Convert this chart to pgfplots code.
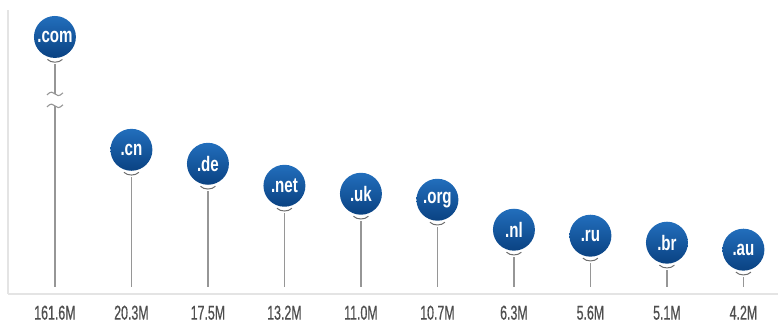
\documentclass[border=0pt]{standalone}
\usepackage{pgfplots}
\pgfplotsset{compat=1.18}
\usepackage{pgfplotstable}
\usepackage{fontspec}
\setmainfont{Liberation Sans}
\newfontfamily\condfont[FakeStretch=0.62,FakeBold=0.6]{Liberation Sans}
\newfontfamily\circfont[FakeStretch=0.72]{Liberation Sans}

\definecolor{stemc}{RGB}{150,150,150}
\definecolor{smilec}{RGB}{110,110,110}
\definecolor{axisc}{RGB}{228,228,228}
\definecolor{labc}{RGB}{78,78,78}
\definecolor{balltop}{RGB}{34,110,188}
\definecolor{ballbot}{RGB}{10,66,130}

\pgfdeclareplotmark{smile}{%
  \pgfpathmoveto{\pgfqpoint{-7.5pt}{2.5pt}}%
  \pgfpathcurveto{\pgfqpoint{-4pt}{-1.2pt}}{\pgfqpoint{4pt}{-1.2pt}}{\pgfqpoint{7.5pt}{2.5pt}}%
  \pgfusepathqstroke}
\pgfdeclareplotmark{brk}{%
  \pgfpathmoveto{\pgfqpoint{-8pt}{5pt}}%
  \pgfpathcurveto{\pgfqpoint{-4pt}{9pt}}{\pgfqpoint{-2pt}{8pt}}{\pgfqpoint{0pt}{6pt}}%
  \pgfpathcurveto{\pgfqpoint{2pt}{4pt}}{\pgfqpoint{4pt}{3pt}}{\pgfqpoint{8pt}{7pt}}%
  \pgfpathmoveto{\pgfqpoint{-8pt}{-7pt}}%
  \pgfpathcurveto{\pgfqpoint{-4pt}{-3pt}}{\pgfqpoint{-2pt}{-4pt}}{\pgfqpoint{0pt}{-6pt}}%
  \pgfpathcurveto{\pgfqpoint{2pt}{-8pt}}{\pgfqpoint{4pt}{-9pt}}{\pgfqpoint{8pt}{-5pt}}%
  \pgfusepathqstroke}

\pgfplotstableread{
i name val lab h
0 .com 161.6 161.6M 257
1 .cn 20.3 20.3M 144
2 .de 17.5 17.5M 130
3 .net 13.2 13.2M 108
4 .uk 11.0 11.0M 100
5 .org 10.7 10.7M 94
6 .nl 6.3 6.3M 64
7 .ru 5.6 5.6M 58
8 .br 5.1 5.1M 51
9 .au 4.2 4.2M 44
}\data

\begin{document}
\begin{tikzpicture}
\begin{axis}[
  scale only axis, width=771pt, height=284pt,
  xmin=-0.6136, xmax=9.4517, ymin=0, ymax=284,
  axis x line=bottom, axis y line=left,
  axis line style={-, draw=axisc, line width=2pt},
  ytick=\empty, xtick={0,...,9},
  xticklabels from table={\data}{lab},
  major tick length=0pt,
  xticklabel style={anchor=base, yshift=-26pt, inner sep=0pt,
    font=\condfont\fontsize{20}{20}\selectfont, text=labc},
  clip=false, unbounded coords=jump,
]
\path (axis cs:-0.718,-30) rectangle (axis cs:9.4517,294);
% stems (from 7 above the baseline up to just under each smile)
\addplot[draw=stemc, line width=1.2pt, mark=none] coordinates {
  (0,7) (0,188) (0,nan) (0,200) (0,230) (0,nan)
  (1,7) (1,117) (1,nan)
  (2,7) (2,103) (2,nan)
  (3,7) (3,81) (3,nan)
  (4,7) (4,73) (4,nan)
  (5,7) (5,67) (5,nan)
  (6,7) (6,37) (6,nan)
  (7,7) (7,31) (7,nan)
  (8,7) (8,24) (8,nan)
  (9,7) (9,17)
};
% break mark on .com
\addplot[only marks, mark=brk, mark options={draw=stemc, line width=1.1pt}]
  coordinates {(0,194)};
% smiles
\addplot[only marks, mark=smile, mark options={draw=smilec, line width=1pt}]
  table[x=i, y expr=\thisrow{h}-25] {\data};
% balls
\addplot[draw=none, mark=none, nodes near coords, point meta=explicit symbolic,
  nodes near coords style={circle, minimum size=42pt, inner sep=0pt,
    top color=balltop, bottom color=ballbot, text=white, anchor=center,
    font=\circfont\bfseries\fontsize{21}{21}\selectfont}]
  table[x=i, y=h, meta=name] {\data};
\end{axis}
\end{tikzpicture}
\end{document}
